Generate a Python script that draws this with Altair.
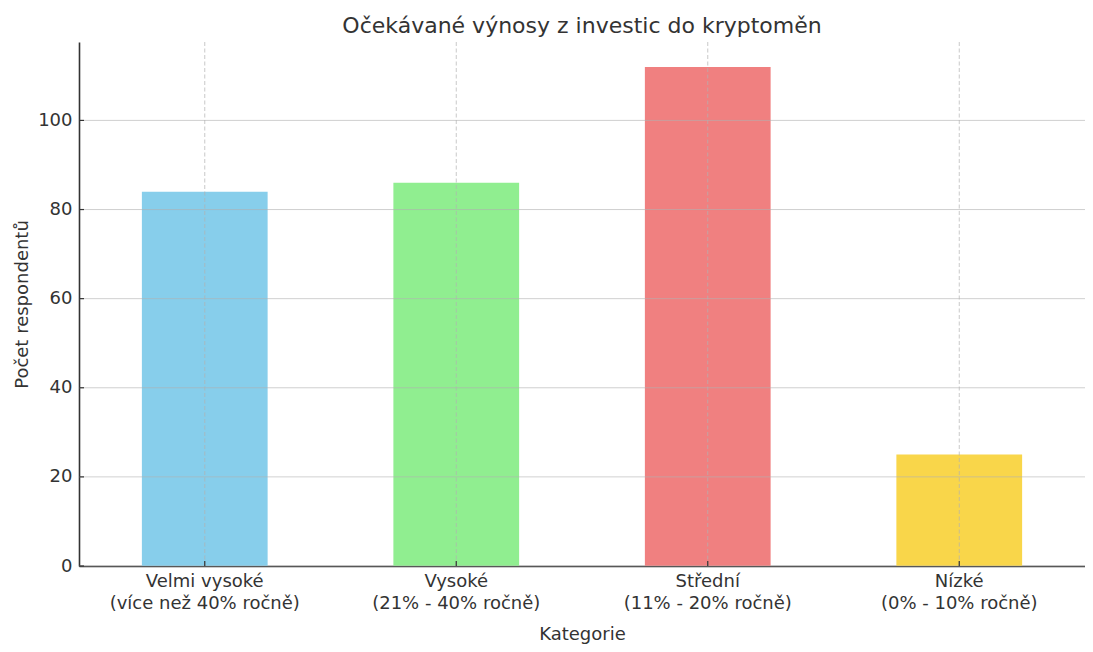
import altair as alt
import pandas as pd

categories = [
    "Velmi vysoké\n(více než 40% ročně)",
    "Vysoké\n(21% - 40% ročně)",
    "Střední\n(11% - 20% ročně)",
    "Nízké\n(0% - 10% ročně)",
]
counts = [84, 86, 112, 25]
colors = ["#87CEEB", "#90EE90", "#F08080", "#F9D64A"]
y_ticks = [0, 20, 40, 60, 80, 100]
y_max = 117.6

W = 1006
H = 524
FONT = "DejaVu Sans"
TXT = "#333333"

df = pd.DataFrame({"cat": categories, "n": counts})
ticks_df = pd.DataFrame({"n": y_ticks})

xscale = alt.Scale(domain=categories, paddingInner=0.5, paddingOuter=0.25)
yscale = alt.Scale(domain=[0, y_max], nice=False, zero=True)

x_axis = alt.Axis(
    title="Kategorie",
    labelExpr="split(datum.label, '\\n')",
    labelAngle=0,
    labelLimit=0,
    ticks=False,
    grid=False,
    domainColor=TXT,
    domainWidth=1.6,
    labelFont=FONT,
    labelFontSize=18,
    labelColor=TXT,
    labelLineHeight=22,
    labelPadding=6,
    titleFont=FONT,
    titleFontSize=18,
    titleFontWeight="normal",
    titleColor=TXT,
    titlePadding=13,
)
y_axis = alt.Axis(
    title="Počet respondentů",
    values=y_ticks,
    ticks=False,
    grid=False,
    domainColor=TXT,
    domainWidth=1.6,
    labelFont=FONT,
    labelFontSize=18,
    labelColor=TXT,
    labelPadding=7,
    titleFont=FONT,
    titleFontSize=18,
    titleFontWeight="normal",
    titleColor=TXT,
    titlePadding=6,
)

X = alt.X("cat:N", scale=xscale, sort=categories, axis=x_axis)
Y = alt.Y("n:Q", scale=yscale, axis=y_axis)

bars = alt.Chart(df).mark_bar().encode(
    x=X,
    y=Y,
    color=alt.Color("cat:N", scale=alt.Scale(domain=categories, range=colors), legend=None),
)

hgrid = alt.Chart(ticks_df).mark_rule(color="#b0b0b0", opacity=0.6, strokeWidth=1).encode(
    y=Y,
    x=alt.value(0),
    x2=alt.value(W),
)

vgrid = alt.Chart(df).mark_rule(
    color="#b0b0b0", opacity=0.7, strokeWidth=1, strokeDash=[4, 2.5]
).encode(
    x=X,
    y=alt.value(0),
    y2=alt.value(H),
)

yticks = alt.Chart(ticks_df).mark_rule(color=TXT, strokeWidth=1.2).encode(
    y=Y,
    x=alt.value(0),
    x2=alt.value(5),
)

xticks = alt.Chart(df).mark_rule(color=TXT, strokeWidth=1.2).encode(
    x=X,
    y=alt.value(H),
    y2=alt.value(H - 5),
)

chart = (
    alt.layer(bars, hgrid, vgrid, yticks, xticks)
    .properties(
        width=W,
        height=H,
        autosize=alt.AutoSizeParams(type="none"),
        padding={"left": 71, "top": 34, "right": 0, "bottom": 78},
        title=alt.Title(
            "Očekávané výnosy z investic do kryptoměn",
            font=FONT,
            fontSize=22,
            fontWeight="normal",
            color=TXT,
            anchor="middle",
            offset=4,
        ),
    )
    .configure_view(stroke=None)
)

chart.save("out.html", embed_options={"renderer": "svg", "actions": False})
